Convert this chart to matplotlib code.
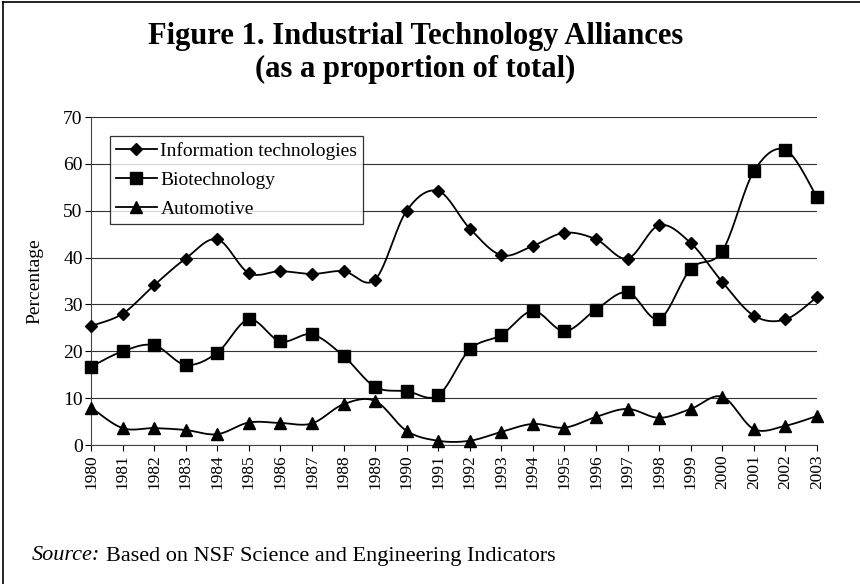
import numpy as np
import matplotlib.pyplot as plt
from matplotlib.lines import Line2D

# Yillar va qiymatlar (rasmdan o'qilgan)
years = list(range(1980, 2004))
info_tech = [25.4, 28.0, 34.1, 39.8, 43.9, 36.7, 37.1, 36.5, 37.1, 35.3, 50.0, 54.2,
             46.2, 40.5, 42.5, 45.3, 43.9, 39.8, 46.9, 43.1, 34.8, 27.6, 26.8, 31.6]
biotech = [16.7, 20.0, 21.3, 17.1, 19.7, 26.8, 22.1, 23.6, 19.0, 12.4, 11.5, 10.6,
           20.4, 23.5, 28.6, 24.3, 28.9, 32.6, 26.9, 37.6, 41.4, 58.4, 63.0, 52.9]
automotive = [8.0, 3.6, 3.6, 3.2, 2.3, 4.8, 4.7, 4.6, 8.7, 9.4, 3.0, 0.9,
              0.9, 2.8, 4.5, 3.7, 6.0, 7.7, 5.8, 7.7, 10.3, 3.4, 4.1, 6.2]
series_names = ['Information technologies', 'Biotechnology', 'Automotive']
markers = ['D', 's', '^']
msizes = [6, 8, 8]

plt.rcParams['font.family'] = ['Liberation Serif', 'DejaVu Serif']


def smooth(x, y, n=20):
    # Catmull-Rom egri chizig'i (Excel "smoothed line" ga o'xshash)
    x = np.asarray(x, float)
    y = np.asarray(y, float)
    px = np.concatenate([[x[0]], x, [x[-1]]])
    py = np.concatenate([[y[0]], y, [y[-1]]])
    xs, ys = [], []
    t = np.linspace(0, 1, n)
    for i in range(1, len(px) - 2):
        p0x, p1x, p2x, p3x = px[i - 1], px[i], px[i + 1], px[i + 2]
        p0y, p1y, p2y, p3y = py[i - 1], py[i], py[i + 1], py[i + 2]
        c1x, c1y = p1x + (p2x - p0x) / 6, p1y + (p2y - p0y) / 6
        c2x, c2y = p2x - (p3x - p1x) / 6, p2y - (p3y - p1y) / 6
        b = [(1 - t) ** 3, 3 * (1 - t) ** 2 * t, 3 * (1 - t) * t ** 2, t ** 3]
        xs.append(b[0] * p1x + b[1] * c1x + b[2] * c2x + b[3] * p2x)
        ys.append(b[0] * p1y + b[1] * c1y + b[2] * c2y + b[3] * p2y)
    return np.concatenate(xs), np.concatenate(ys)


fig = plt.figure(figsize=(8.6, 5.84), dpi=100)
ax = fig.add_axes([91 / 860, 139 / 584, 726 / 860, 328 / 584])

handles = []
for vals, name, m, ms in zip([info_tech, biotech, automotive], series_names, markers, msizes):
    sx, sy = smooth(years, vals)
    ax.plot(sx, sy, color='black', lw=1.3, zorder=3)
    ax.plot(years, vals, linestyle='none', marker=m, markersize=ms, color='black', zorder=4,
            clip_on=False)
    handles.append(Line2D([], [], color='black', lw=1.3, marker=m, markersize=ms, label=name))

ax.set_xlim(1980, 2003)
ax.set_ylim(0, 70)
ax.set_yticks(range(0, 71, 10))
ax.set_xticks(years)
ax.set_xticklabels([str(y) for y in years], rotation=90, fontsize=12.5)
ax.tick_params(axis='y', labelsize=14, direction='out', length=4, width=0.8, pad=2)
ax.tick_params(axis='x', direction='out', length=4, width=0.8, pad=3)
ax.yaxis.grid(True, color='#333333', lw=0.8)
ax.set_axisbelow(True)
for s in ['top', 'right']:
    ax.spines[s].set_visible(False)
ax.spines['left'].set_color('#444444')
ax.spines['bottom'].set_color('#444444')
ax.set_ylabel('Percentage', fontsize=14, labelpad=14)

leg = ax.legend(handles=handles, loc='upper left', bbox_to_anchor=(0.026, 0.942),
                fontsize=14, frameon=True, fancybox=False, edgecolor='black',
                handlelength=2.1, handletextpad=0.2, borderpad=0.3, labelspacing=0.6,
                borderaxespad=0)
leg.get_frame().set_linewidth(0.9)

fig.text(0.483, 1 - 53 / 584, 'Figure 1. Industrial Technology Alliances\n(as a proportion of total)',
         ha='center', va='center', fontsize=22, fontweight='bold', linespacing=1.2)
src = fig.text(32 / 860, 1 - 556 / 584, 'Source:', fontsize=16, va='center', style='italic')
ax.annotate('Based on NSF Science and Engineering Indicators', xy=(1, 0.5), xycoords=src,
            xytext=(4, 0), textcoords='offset points', fontsize=16, va='center',
            annotation_clip=False)

# Chegaraning faqat yuqori va chap tomoni ko'rinadi
fig.add_artist(Line2D([3 / 860, 3 / 860], [0, 1 - 2 / 584], color='black', lw=1.2))
fig.add_artist(Line2D([3 / 860, 1], [1 - 2 / 584, 1 - 2 / 584], color='black', lw=1.2))

fig.savefig('out.png', dpi=100)
